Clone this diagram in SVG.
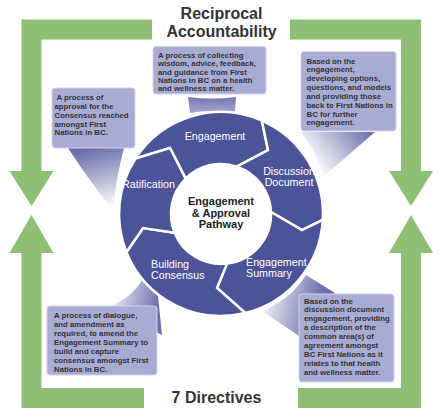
<svg xmlns="http://www.w3.org/2000/svg" width="447" height="418" viewBox="0 0 447 418">
<defs>
<style>
.g{fill:#8dbf75}
.seg{fill:#4b5399;stroke:#fff;stroke-width:2.5;stroke-linejoin:miter}
.lbl{font-family:"Liberation Sans",Arial,sans-serif;font-size:10.7px;fill:#fff}
.mid{text-anchor:middle}
.ctr{font-family:"Liberation Sans",Arial,sans-serif;font-size:11px;font-weight:bold;fill:#222;text-anchor:middle}
.ttl{font-family:"Liberation Sans",Arial,sans-serif;font-size:16px;font-weight:bold;fill:#333;text-anchor:middle}
.box{fill:#a8abd4;stroke:#d2d4ec;stroke-width:1}
.bt{font-family:"Liberation Sans",Arial,sans-serif;font-size:7.8px;font-weight:bold;fill:#333}
</style>
<linearGradient id="gTop" gradientUnits="userSpaceOnUse" x1="212" y1="97" x2="212" y2="112"><stop offset="0" stop-color="#7477b3"/><stop offset="1" stop-color="#a3a6d0"/></linearGradient>
<linearGradient id="gLeft" gradientUnits="userSpaceOnUse" x1="95" y1="148" x2="110" y2="208"><stop offset="0" stop-color="#6a6eaa"/><stop offset="1" stop-color="#ffffff"/></linearGradient>
<linearGradient id="gTR" gradientUnits="userSpaceOnUse" x1="372" y1="132" x2="318" y2="172"><stop offset="0" stop-color="#6a6eaa"/><stop offset="1" stop-color="#ffffff"/></linearGradient>
<linearGradient id="gBR" gradientUnits="userSpaceOnUse" x1="318" y1="312" x2="266" y2="300"><stop offset="0" stop-color="#6a6eaa"/><stop offset="1" stop-color="#ecedf6"/></linearGradient>
<linearGradient id="gBL" gradientUnits="userSpaceOnUse" x1="158" y1="312" x2="110" y2="302"><stop offset="0" stop-color="#6a6eaa"/><stop offset="1" stop-color="#ecedf6"/></linearGradient>
</defs>
<rect width="447" height="418" fill="#fff"/>

<g id="frame">
<path class="g" d="M21.5,19.5 H152 V39.5 H41.5 V171 H53.5 L31.5,206 L9.5,171 H21.5 Z"/>
<path class="g" d="M290,19.5 H421 V171 H433 L411,206 L389,171 H401 V39.5 H290 Z"/>
<path class="g" d="M21.5,408 H144 V388 H41.5 V253 H53.5 L31.5,215 L9.5,253 H21.5 Z"/>
<path class="g" d="M298,408 H421 V253 H433 L411,215 L389,253 H401 V388 H298 Z"/>
</g>

<g id="title">
<text class="ttl" x="221.5" y="18.5">Reciprocal</text>
<text class="ttl" x="221.5" y="36.5">Accountability</text>
</g>
<g id="directives">
<text class="ttl" x="216.5" y="403">7 Directives</text>
</g>

<g id="connectors">
<path fill="url(#gTop)" d="M188,97 Q212,100 236,97 L235,113 Q212,109 190,113 Z"/>
<path fill="url(#gLeft)" d="M68,148 Q90,182 113,210 Q116,178 124,148 Z"/>
<path fill="url(#gTR)" d="M300,132 L375,132 L323,177 Q318,152 300,132 Z"/>
<path fill="url(#gBR)" d="M306,275 L335,293 L299,336 L262,311 Q290,300 306,275 Z"/>
<path fill="url(#gBL)" d="M108,307 Q132,298 142,280 Q150,290 158,296 L162,335 Z"/>
</g>

<g id="ring">
<g id="seg-engagement">
<path class="seg" d="M135.5,158.5 A102,102 0 0 1 261.8,120.5 L268,150 L236.8,166.6 A50,50 0 0 0 185.6,178.6 L170,148 Z"/>
<text class="lbl mid" x="215" y="140">Engagement</text>
</g>
<g id="seg-discussion">
<path class="seg" d="M261.8,120.5 A102,102 0 0 1 322.8,219.9 L302,230 L271,212 A50,50 0 0 0 236.8,166.6 L268,150 Z"/>
<text class="lbl mid" x="289" y="175">Discussion</text>
<text class="lbl mid" x="289" y="186">Document</text>
</g>
<g id="seg-summary">
<path class="seg" d="M322.8,219.9 A102,102 0 0 1 245.3,313 L217,288 L227,263.6 A50,50 0 0 0 271,212 L302,230 Z"/>
<text class="lbl" x="246" y="266">Engagement</text>
<text class="lbl" x="246" y="277">Summary</text>
</g>
<g id="seg-building">
<path class="seg" d="M245.3,313 A102,102 0 0 1 126.4,252.2 L143,228 L174.6,232.7 A50,50 0 0 0 227,263.6 L217,288 Z"/>
<text class="lbl" x="151" y="268">Building</text>
<text class="lbl" x="151" y="279">Consensus</text>
</g>
<g id="seg-ratification">
<path class="seg" d="M126.4,252.2 A102,102 0 0 1 135.5,158.5 L170,148 L185.6,178.6 A50,50 0 0 0 174.6,232.7 L143,228 Z"/>
<text class="lbl mid" x="148.5" y="188">Ratification</text>
</g>
<g id="center">
<text class="ctr" x="221" y="205">Engagement</text>
<text class="ctr" x="221" y="216.5">&amp; Approval</text>
<text class="ctr" x="221" y="228">Pathway</text>
</g>
</g>

<g id="box-engagement">
<rect class="box" x="153" y="46.5" width="113" height="47.5" rx="3"/>
<text class="bt" x="158" y="58">A process of collecting</text>
<text class="bt" x="158" y="66.3">wisdom, advice, feedback,</text>
<text class="bt" x="158" y="74.6">and guidance from First</text>
<text class="bt" x="158" y="82.9">Nations in BC on a health</text>
<text class="bt" x="158" y="91.2">and wellness matter.</text>
</g>

<g id="box-discussion">
<rect class="box" x="301" y="51.5" width="95" height="79.5" rx="3"/>
<text class="bt" x="306.5" y="63.5">Based on the</text>
<text class="bt" x="306.5" y="72.35">engagement,</text>
<text class="bt" x="306.5" y="81.2">developing options,</text>
<text class="bt" x="306.5" y="90.05">questions, and models</text>
<text class="bt" x="306.5" y="98.9">and providing those</text>
<text class="bt" x="306.5" y="107.75">back to First Nations in</text>
<text class="bt" x="306.5" y="116.6">BC for further</text>
<text class="bt" x="306.5" y="125.45">engagement.</text>
</g>

<g id="box-ratification">
<rect class="box" x="52" y="88" width="83" height="60" rx="3"/>
<text class="bt" x="56.5" y="100">A process of</text>
<text class="bt" x="54.5" y="108.85">approval for the</text>
<text class="bt" x="54.5" y="117.7">Consensus reached</text>
<text class="bt" x="54.5" y="126.55">amongst First</text>
<text class="bt" x="54.5" y="135.4">Nations in BC.</text>
</g>

<g id="box-building">
<rect class="box" x="47" y="306" width="110" height="69" rx="3"/>
<text class="bt" x="54" y="317.8">A process of dialogue,</text>
<text class="bt" x="54" y="326.85">and amendment as</text>
<text class="bt" x="54" y="335.9">required, to amend the</text>
<text class="bt" x="54" y="344.95">Engagement Summary to</text>
<text class="bt" x="54" y="354">build and capture</text>
<text class="bt" x="54" y="363.05">consensus amongst First</text>
<text class="bt" x="54" y="372.1">Nations in BC.</text>
</g>

<g id="box-summary">
<rect class="box" x="299" y="294" width="95" height="88" rx="3"/>
<text class="bt" x="304" y="303.5">Based on the</text>
<text class="bt" x="304" y="312.4">discussion document</text>
<text class="bt" x="304" y="321.3">engagement, providing</text>
<text class="bt" x="304" y="330.2">a description of the</text>
<text class="bt" x="304" y="339.1">common area(s) of</text>
<text class="bt" x="304" y="348">agreement amongst</text>
<text class="bt" x="304" y="356.9">BC First Nations as it</text>
<text class="bt" x="304" y="365.8">relates to that health</text>
<text class="bt" x="304" y="374.7">and wellness matter.</text>
</g>
</svg>
